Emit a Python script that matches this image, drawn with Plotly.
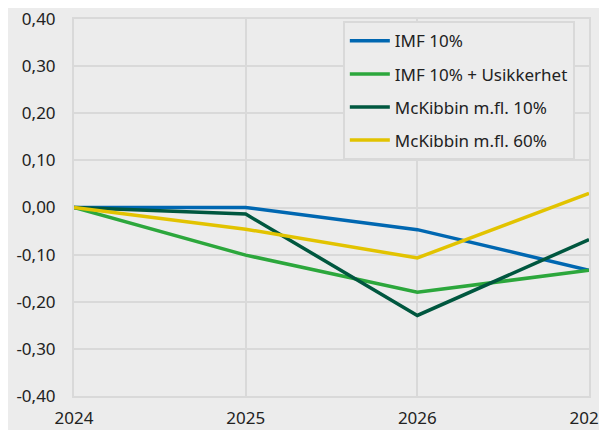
import plotly.graph_objects as go

years = [2024, 2025, 2026, 2027]
imf10 = [0.0, 0.0, -0.047, -0.133]
imf10_usikkerhet = [0.0, -0.101, -0.180, -0.133]
mckibbin10 = [0.0, -0.014, -0.229, -0.068]
mckibbin60 = [0.0, -0.046, -0.107, 0.030]

y_ticks = [0.4, 0.3, 0.2, 0.1, 0.0, -0.1, -0.2, -0.3, -0.4]
y_ticktext = [("%.2f" % v).replace(".", ",") for v in y_ticks]

names = ["IMF 10%", "IMF 10% + Usikkerhet", "McKibbin m.fl. 10%", "McKibbin m.fl. 60%"]
colors = ["#0067b1", "#2ca73c", "#00573f", "#e2c300"]
series = [imf10, imf10_usikkerhet, mckibbin10, mckibbin60]

fig = go.Figure()
for n, c, s in zip(names, colors, series):
    fig.add_trace(go.Scatter(x=years, y=s, name=n, mode="lines", legendgroup=n,
                             line=dict(color=c, width=3.5)))

bg = "#ececec"
grid = "#d9d9d9"
fig.update_layout(
    width=599, height=422,
    paper_bgcolor=bg, plot_bgcolor=bg,
    margin=dict(l=66, r=18, t=11, b=34, autoexpand=False),
    font=dict(family="Noto Sans", size=17, color="#222222"),
    showlegend=True,
    legend=dict(x=0.522, y=0.994, xanchor="left", yanchor="top",
                bgcolor=bg, bordercolor=grid, borderwidth=2,
                font=dict(size=17), tracegroupgap=8, itemwidth=40),
)
fig.update_xaxes(range=[2024, 2027], tickvals=years, ticktext=[str(y) for y in years],
                 showgrid=True, gridcolor=grid, gridwidth=2, zeroline=False,
                 showline=True, linecolor=grid, linewidth=2, mirror=True,
                 ticks="outside", ticklen=6, tickcolor="rgba(0,0,0,0)", automargin=False,
                 ticklabeloverflow="allow")
fig.update_yaxes(range=[-0.40, 0.40], tickvals=y_ticks, ticktext=y_ticktext,
                 showgrid=True, gridcolor=grid, gridwidth=2, zeroline=False,
                 showline=True, linecolor=grid, linewidth=2, mirror=True,
                 ticks="outside", ticklen=13, tickcolor="rgba(0,0,0,0)", automargin=False,
                 ticklabeloverflow="allow")

fig.write_html("out.html")
